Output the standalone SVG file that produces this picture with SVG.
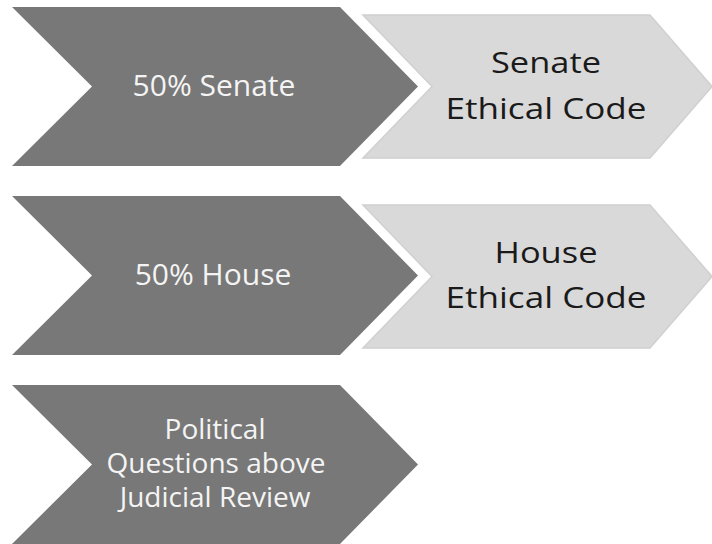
<svg xmlns="http://www.w3.org/2000/svg" width="712" height="544" viewBox="0 0 712 544">
  <style>
    .dark { fill: #787878; }
    .light { fill: #d9d9d9; stroke: #d0d0d0; stroke-width: 1.5; stroke-linejoin: miter; }
    .dt { font-family: "Open Sans", "Noto Sans", "DejaVu Sans", sans-serif; font-size: 30px; fill: #f4f4f4; text-anchor: middle; }
    .dt3 { font-family: "Open Sans", "Noto Sans", "DejaVu Sans", sans-serif; font-size: 28px; fill: #f4f4f4; text-anchor: middle; }
    .lt { font-family: "Open Sans", "Noto Sans", "DejaVu Sans", sans-serif; font-size: 29px; fill: #1a1a1a; text-anchor: middle; }
  </style>
  <rect width="712" height="544" fill="#ffffff"/>

  <g id="senate-50">
    <polygon class="dark" points="12,7 340,7 418,86.5 340,166 12,166 92,86.5"/>
    <text class="dt" x="214" y="96">50% Senate</text>
  </g>

  <g id="senate-ethics">
    <polygon class="light" points="363,15 650,15 712,86.5 650,158 363,158 432,86.5"/>
    <text class="lt" x="546" y="73" textLength="110" lengthAdjust="spacingAndGlyphs">Senate</text>
    <text class="lt" x="546" y="119" textLength="201" lengthAdjust="spacingAndGlyphs">Ethical Code</text>
  </g>

  <g id="house-50">
    <polygon class="dark" points="12,196 340,196 418,275.5 340,355 12,355 92,275.5"/>
    <text class="dt" x="213" y="285">50% House</text>
  </g>

  <g id="house-ethics">
    <polygon class="light" points="363,205 650,205 712,276.5 650,348 363,348 432,276.5"/>
    <text class="lt" x="546" y="263" textLength="103" lengthAdjust="spacingAndGlyphs">House</text>
    <text class="lt" x="546" y="308" textLength="201" lengthAdjust="spacingAndGlyphs">Ethical Code</text>
  </g>

  <g id="political-questions">
    <polygon class="dark" points="12,385 340,385 418,464.5 340,544 12,544 92,464.5"/>
    <text class="dt3" x="215" y="439">Political</text>
    <text class="dt3" x="216" y="473">Questions above</text>
    <text class="dt3" x="215" y="507">Judicial Review</text>
  </g>

  <g id="connectors"/>
</svg>
